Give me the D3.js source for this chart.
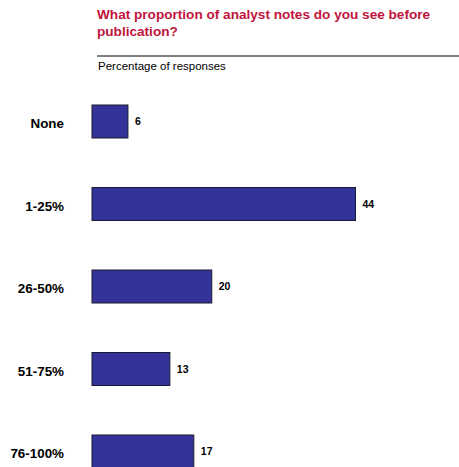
<!DOCTYPE html>
<html>
<head>
<meta charset="utf-8">
<script src="https://cdn.jsdelivr.net/npm/d3@7"></script>
<style>
  html, body { margin: 0; padding: 0; background: #fff; }
  svg { display: block; font-family: Arial, "Liberation Sans", sans-serif; }
</style>
</head>
<body>
<svg id="chart" width="459" height="467"></svg>
<script>
const categories = ["None", "1-25%", "26-50%", "51-75%", "76-100%"];
const values = [6, 44, 20, 13, 17];
const titleLines = ["What proportion of analyst notes do you see before", "publication?"];
const subtitle = "Percentage of responses";

const svg = d3.select("#chart");

const y = d3.scaleBand().domain(categories).range([105, 468]).paddingInner(0.6).paddingOuter(0);
const x = d3.scaleLinear().domain([0, 44]).range([92, 355.5]);

// Title
svg.append("text")
  .attr("x", 97).attr("y", 19)
  .attr("fill", "#c0143c")
  .attr("font-weight", "bold")
  .attr("font-size", 13.6)
  .selectAll("tspan").data(titleLines).join("tspan")
  .attr("x", 97)
  .attr("dy", (d, i) => i === 0 ? 0 : 17)
  .text(d => d);

svg.append("line")
  .attr("x1", 97).attr("x2", 459)
  .attr("y1", 56).attr("y2", 56)
  .attr("stroke", "#555").attr("stroke-width", 1.5);

svg.append("text")
  .attr("x", 98).attr("y", 70)
  .attr("font-size", 11.5)
  .attr("fill", "#000")
  .text(subtitle);

const data = categories.map((c, i) => ({ c, v: values[i] }));

svg.selectAll("rect.bar").data(data).join("rect")
  .attr("class", "bar")
  .attr("x", x(0))
  .attr("y", d => y(d.c))
  .attr("width", d => x(d.v) - x(0))
  .attr("height", y.bandwidth())
  .attr("fill", "#333399")
  .attr("stroke", "#1a1a2e")
  .attr("stroke-width", 1);

svg.selectAll("text.cat").data(data).join("text")
  .attr("class", "cat")
  .attr("x", 64)
  .attr("y", d => y(d.c) + y.bandwidth() / 2 + 6.5)
  .attr("text-anchor", "end")
  .attr("font-weight", "bold")
  .attr("font-size", 13.4)
  .text(d => d.c);

svg.selectAll("text.val").data(data).join("text")
  .attr("class", "val")
  .attr("x", d => x(d.v) + 7)
  .attr("y", d => y(d.c) + y.bandwidth() / 2 + 3.5)
  .attr("font-weight", "bold")
  .attr("font-size", 10.5)
  .text(d => d.v);
</script>
</body>
</html>
